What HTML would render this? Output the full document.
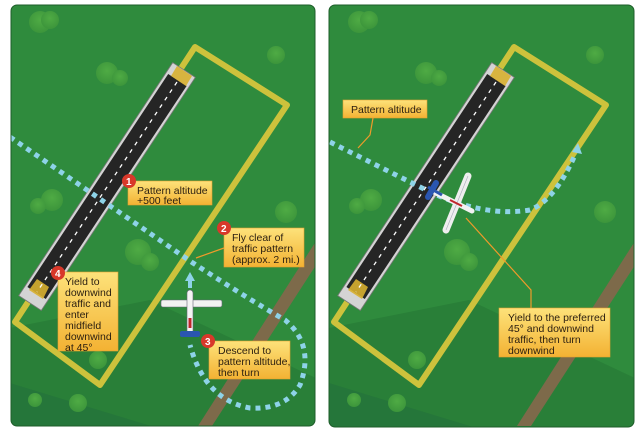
<!DOCTYPE html>
<html><head><style>
html,body{margin:0;padding:0;background:#fff;}
svg{display:block;}
text{font-family:"Liberation Sans",sans-serif;font-size:10.5px;fill:#2a1e10;}
</style></head><body>
<svg width="640" height="441" viewBox="0 0 640 441" xmlns="http://www.w3.org/2000/svg">
<defs>
<linearGradient id="box" x1="0" y1="0" x2="0" y2="1"><stop offset="0" stop-color="#fde27a"/><stop offset="1" stop-color="#f3b233"/></linearGradient>
<radialGradient id="tree" cx="0.5" cy="0.4" r="0.6"><stop offset="0" stop-color="#4fab44"/><stop offset="1" stop-color="#3c953b"/></radialGradient>
<clipPath id="cl"><rect x="11" y="5" width="304" height="421" rx="6"/></clipPath>
<clipPath id="cr"><rect x="329" y="5" width="305" height="422" rx="6"/></clipPath>
<g id="ground">
 <rect x="0" y="0" width="320" height="441" fill="#2f8b3d"/>
 <polygon points="0,330 150,300 320,380 320,441 0,441" fill="#297f38"/>
 <polygon points="0,380 200,441 0,441" fill="#25763a"/>
 <polygon points="318,238 318,262 212,426 198,426" fill="#7d6a4a"/>
 <g fill="url(#tree)">
  <circle cx="40" cy="22" r="11"/><circle cx="50" cy="20" r="9"/>
  <circle cx="107" cy="73" r="11"/><circle cx="120" cy="78" r="8"/>
  <circle cx="276" cy="55" r="9"/>
  <circle cx="52" cy="200" r="11"/><circle cx="38" cy="206" r="8"/>
  <circle cx="138" cy="252" r="13"/><circle cx="150" cy="262" r="9"/>
  <circle cx="286" cy="212" r="11"/>
  <circle cx="98" cy="360" r="9"/>
  <circle cx="35" cy="400" r="7"/><circle cx="78" cy="403" r="9"/>
 </g>
 <polygon points="195,47 287,105 100,385 15,322" fill="none" stroke="#cdc23c" stroke-width="6" stroke-linejoin="round"/>
 <polygon points="172.7,62.6 195.3,77.4 41.3,310.4 18.7,295.6" fill="#d4d4d4" stroke="#777" stroke-width="0.8"/>
 <polygon points="168.2,74 186.6,86 45.8,299 27.4,287" fill="#252525"/>
 <polygon points="177,66 192,76 186,86 171,76" fill="#d8b030" opacity="0.9"/>
 <polygon points="37,279 49,287 43,299 29,290" fill="#d8b030" opacity="0.9"/>
 <line x1="177" y1="82" x2="37" y2="292" stroke="#fff" stroke-width="1.3" stroke-dasharray="4,5"/>
</g>
</defs>

<!-- LEFT PANEL -->
<g clip-path="url(#cl)"><use href="#ground"/>
 <path d="M10,137 L193,263 Q250,300 285,320 Q315,345 300,385 Q285,410 250,408 Q205,400 190,345" fill="none" stroke="#8ed3e8" stroke-width="5" stroke-dasharray="5,5"/>
 <polygon points="190,272 195,281 185,281" fill="#8ed3e8"/>
 <rect x="188" y="280" width="4" height="8" fill="#8ed3e8"/>
 <rect x="161" y="300" width="61" height="7" rx="2" fill="#f2f2f2" stroke="#667" stroke-width="0.6"/>
 <rect x="187" y="290" width="6" height="45" rx="3" fill="#f4f4f4" stroke="#667" stroke-width="0.6"/>
 <rect x="188.5" y="318" width="3" height="10" fill="#c0262b"/>
 <rect x="180" y="331" width="20" height="6" rx="2" fill="#2a56b0"/>
</g>
<rect x="11" y="5" width="304" height="421" rx="6" fill="none" stroke="#1e5d2a" stroke-width="1"/>

<line x1="224" y1="248" x2="196" y2="258" stroke="#f09a2a" stroke-width="1.2"/>
<rect x="128" y="181" width="84" height="24" fill="url(#box)" stroke="#e6a030" stroke-width="0.6"/>
<text x="137" y="194">Pattern altitude</text><text x="137" y="204">+500 feet</text>
<rect x="224" y="228" width="80" height="39" fill="url(#box)" stroke="#e6a030" stroke-width="0.6"/>
<text x="232" y="241">Fly clear of</text><text x="232" y="252">traffic pattern</text><text x="232" y="263">(approx. 2 mi.)</text>
<rect x="58" y="272" width="60" height="79" fill="url(#box)" stroke="#e6a030" stroke-width="0.6"/>
<text x="65" y="285">Yield to</text><text x="65" y="296">downwind</text><text x="65" y="307">traffic and</text><text x="65" y="318">enter</text><text x="65" y="329">midfield</text><text x="65" y="340">downwind</text><text x="65" y="351">at 45°</text>
<rect x="209" y="341" width="81" height="38" fill="url(#box)" stroke="#e6a030" stroke-width="0.6"/>
<text x="218" y="354">Descend to</text><text x="218" y="365">pattern altitude,</text><text x="218" y="376">then turn</text>
<circle cx="129" cy="181" r="7" fill="#d8382a"/><text x="126" y="185" style="fill:#fff;font-size:10px;font-weight:bold">1</text>
<circle cx="224" cy="228" r="7" fill="#d8382a"/><text x="221" y="232" style="fill:#fff;font-size:10px;font-weight:bold">2</text>
<circle cx="208" cy="341" r="7" fill="#d8382a"/><text x="205" y="345" style="fill:#fff;font-size:10px;font-weight:bold">3</text>
<circle cx="58" cy="273" r="7" fill="#d8382a"/><text x="55" y="277" style="fill:#fff;font-size:10px;font-weight:bold">4</text>

<!-- RIGHT PANEL -->
<g clip-path="url(#cr)"><g transform="translate(319,0)"><use href="#ground"/></g>
 <path d="M330,142 L420,187 Q480,218 530,210 Q555,200 575,155" fill="none" stroke="#8ed3e8" stroke-width="5" stroke-dasharray="5,5"/>
 <polygon points="578,143 582,154 572,152" fill="#8ed3e8"/>
 <line x1="434" y1="192" x2="472" y2="211" stroke="#f2f2f2" stroke-width="5" stroke-linecap="round"/>
 <line x1="468" y1="176" x2="446" y2="230" stroke="#eeeeee" stroke-width="7" stroke-linecap="round"/>
 <line x1="468" y1="176" x2="446" y2="230" stroke="#aab" stroke-width="0.6"/>
 <line x1="450" y1="200" x2="462" y2="206" stroke="#c0262b" stroke-width="2"/>
 <line x1="428" y1="197" x2="436" y2="183" stroke="#2a56b0" stroke-width="6" stroke-linecap="round"/>
 <line x1="428" y1="187" x2="442" y2="195" stroke="#2a56b0" stroke-width="3"/>
</g>
<rect x="329" y="5" width="305" height="422" rx="6" fill="none" stroke="#1e5d2a" stroke-width="1"/>
<polyline points="373,118 370,135 358,148" fill="none" stroke="#f09a2a" stroke-width="1.2"/>
<polyline points="531,308 531,290 466,218" fill="none" stroke="#f09a2a" stroke-width="1.2"/>
<rect x="343" y="100" width="84" height="18" fill="url(#box)" stroke="#e6a030" stroke-width="0.6"/>
<text x="351" y="113">Pattern altitude</text>
<rect x="499" y="308" width="111" height="49" fill="url(#box)" stroke="#e6a030" stroke-width="0.6"/>
<text x="508" y="321">Yield to the preferred</text><text x="508" y="332">45° and downwind</text><text x="508" y="343">traffic, then turn</text><text x="508" y="354">downwind</text>
</svg>
</body></html>
